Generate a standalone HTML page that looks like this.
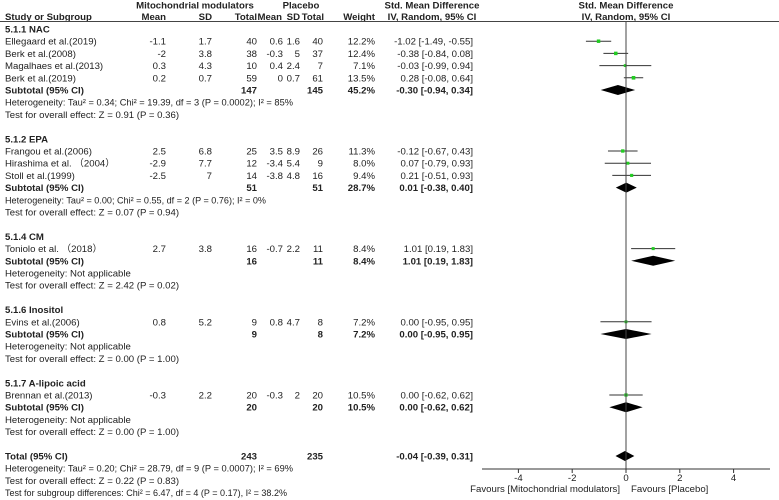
<!DOCTYPE html>
<html><head><meta charset="utf-8"><style>
body{margin:0;background:#fff}
svg{display:block;font-family:"Liberation Sans",Arial,sans-serif;font-size:9.6px;fill:#222}
.b{font-weight:bold}
</style></head><body>
<svg id="fp" width="779" height="500" viewBox="0 0 779 500" xmlns="http://www.w3.org/2000/svg">
<g>
<text class="b" x="195" y="8.5" text-anchor="middle">Mitochondrial modulators</text>
<text class="b" x="301" y="8.5" text-anchor="middle">Placebo</text>
<text class="b" x="432" y="8.5" text-anchor="middle">Std. Mean Difference</text>
<text class="b" x="626" y="8.5" text-anchor="middle">Std. Mean Difference</text>
<text class="b" x="5" y="20">Study or Subgroup</text>
<text class="b" x="166" y="20" text-anchor="end">Mean</text>
<text class="b" x="212" y="20" text-anchor="end">SD</text>
<text class="b" x="257" y="20" text-anchor="end">Total</text>
<text class="b" x="282" y="20" text-anchor="end">Mean</text>
<text class="b" x="300" y="20" text-anchor="end">SD</text>
<text class="b" x="324" y="20" text-anchor="end">Total</text>
<text class="b" x="375" y="20" text-anchor="end">Weight</text>
<text class="b" x="432" y="20" text-anchor="middle">IV, Random, 95% CI</text>
<text class="b" x="626" y="20" text-anchor="middle">IV, Random, 95% CI</text>
<line x1="0" y1="21.5" x2="779" y2="21.5" stroke="#444" stroke-width="1"/>
</g>
<g id="rows"></g>
<g id="marks"></g>
<g id="axis"></g>
</svg>
<script>
// data
const rowKinds = ["head","study","study","study","study","sub","txt","txt","","head","study","study","study","sub","txt","txt","","head","study","sub","txt","txt","","head","study","sub","txt","txt","","head","study","sub","txt","txt","","sub","txt","txt","txt"];
const labels = ["5.1.1 NAC","Ellegaard et al.(2019)","Berk et al.(2008)","Magalhaes et al.(2013)","Berk et al.(2019)","Subtotal (95% CI)","Heterogeneity: Tau² = 0.34; Chi² = 19.39, df = 3 (P = 0.0002); I² = 85%","Test for overall effect: Z = 0.91 (P = 0.36)","",
"5.1.2 EPA","Frangou et al.(2006)","Hirashima et al. （2004）","Stoll et al.(1999)","Subtotal (95% CI)","Heterogeneity: Tau² = 0.00; Chi² = 0.55, df = 2 (P = 0.76); I² = 0%","Test for overall effect: Z = 0.07 (P = 0.94)","",
"5.1.4 CM","Toniolo et al. （2018）","Subtotal (95% CI)","Heterogeneity: Not applicable","Test for overall effect: Z = 2.42 (P = 0.02)","",
"5.1.6 Inositol","Evins et al.(2006)","Subtotal (95% CI)","Heterogeneity: Not applicable","Test for overall effect: Z = 0.00 (P = 1.00)","",
"5.1.7 A-lipoic acid","Brennan et al.(2013)","Subtotal (95% CI)","Heterogeneity: Not applicable","Test for overall effect: Z = 0.00 (P = 1.00)","",
"Total (95% CI)","Heterogeneity: Tau² = 0.20; Chi² = 28.79, df = 9 (P = 0.0007); I² = 69%","Test for overall effect: Z = 0.22 (P = 0.83)","Test for subgroup differences: Chi² = 6.47, df = 4 (P = 0.17), I² = 38.2%"];
const expMean = ["","-1.1","-2","0.3","0.2","","","","","","2.5","-2.9","-2.5","","","","","","2.7","","","","","","0.8","","","","","","-0.3","","","","","","","",""];
const expSD   = ["","1.7","3.8","4.3","0.7","","","","","","6.8","7.7","7","","","","","","3.8","","","","","","5.2","","","","","","2.2","","","","","","","",""];
const expN    = ["","40","38","10","59","147","","","","","25","12","14","51","","","","","16","16","","","","","9","9","","","","","20","20","","","","243","","",""];
const plcMean = ["","0.6","-0.3","0.4","0","","","","","","3.5","-3.4","-3.8","","","","","","-0.7","","","","","","0.8","","","","","","-0.3","","","","","","","",""];
const plcSD   = ["","1.6","5","2.4","0.7","","","","","","8.9","5.4","4.8","","","","","","2.2","","","","","","4.7","","","","","","2","","","","","","","",""];
const plcN    = ["","40","37","7","61","145","","","","","26","9","16","51","","","","","11","11","","","","","8","8","","","","","20","20","","","","235","","",""];
const weights = [null,12.2,12.4,7.1,13.5,45.2,null,null,null,null,11.3,8.0,9.4,28.7,null,null,null,null,8.4,8.4,null,null,null,null,7.2,7.2,null,null,null,null,10.5,10.5,null,null,null,null,100.0,null,null,null];
const est  = [null,-1.02,-0.38,-0.03,0.28,-0.30,null,null,null,null,-0.12,0.07,0.21,0.01,null,null,null,null,1.01,1.01,null,null,null,null,0.00,0.00,null,null,null,null,0.00,0.00,null,null,null,-0.04,null,null,null];
const lo   = [null,-1.49,-0.84,-0.99,-0.08,-0.94,null,null,null,null,-0.67,-0.79,-0.51,-0.38,null,null,null,null,0.19,0.19,null,null,null,null,-0.95,-0.95,null,null,null,null,-0.62,-0.62,null,null,null,-0.39,null,null,null];
const hi   = [null,-0.55,0.08,0.94,0.64,0.34,null,null,null,null,0.43,0.93,0.93,0.40,null,null,null,null,1.83,1.83,null,null,null,null,0.95,0.95,null,null,null,null,0.62,0.62,null,null,null,0.31,null,null,null];
const ticks = [-4,-2,0,2,4];

const NS="http://www.w3.org/2000/svg";
const xs = v => 626 + v*26.9;
const ys = i => 29 + i*12.2;
// text widths for the long statistics lines (style, not data)
const fitWidth = {6:288, 14:261, 36:288, 38:282};
function T(parent,x,y,s,anchor,bold,name){const t=document.createElementNS(NS,"text");t.setAttribute("x",x);t.setAttribute("y",y);t.textContent=s;if(anchor)t.setAttribute("text-anchor",anchor);if(bold)t.setAttribute("class","b");


parent.appendChild(t);return t;}
function E(parent,tag,attrs,name){const e=document.createElementNS(NS,tag);for(const k in attrs)e.setAttribute(k,attrs[k]);


parent.appendChild(e);return e;}
const rows=document.getElementById("rows"), marks=document.getElementById("marks"), axis=document.getElementById("axis");
const fmt=v=>v.toFixed(2);
rowKinds.forEach((k,i)=>{
  const y=ys(i)+3.5;
  if(!k) return;
  const bold = k==="head"||k==="sub";
  const lt=T(rows,5,y,labels[i],null,bold,"row-label");
  if(fitWidth[i]){
    lt.setAttribute("textLength",fitWidth[i]);
    lt.setAttribute("lengthAdjust","spacingAndGlyphs");
  }
  if(k==="study"||k==="sub"){
    if(expMean[i])T(rows,166,y,expMean[i],"end",false,"exp-mean");
    if(expSD[i])T(rows,212,y,expSD[i],"end",false,"exp-sd");
    if(expN[i])T(rows,257,y,expN[i],"end",bold,"exp-total");
    if(plcMean[i])T(rows,283,y,plcMean[i],"end",false,"placebo-mean");
    if(plcSD[i])T(rows,300,y,plcSD[i],"end",false,"placebo-sd");
    if(plcN[i])T(rows,323,y,plcN[i],"end",bold,"placebo-total");
    if(weights[i]!==null)T(rows,375,y,weights[i].toFixed(1)+"%","end",bold,"weight");
    if(est[i]!==null)T(rows,473,y,fmt(est[i])+" ["+fmt(lo[i])+", "+fmt(hi[i])+"]","end",bold,"effect-ci");
  }
});
// zero line
E(axis,"line",{x1:xs(0),y1:21,x2:xs(0),y2:469,stroke:"#444","stroke-width":1},"null-line");
rowKinds.forEach((k,i)=>{
  if(est[i]===null) return;
  const y=ys(i);
  if(k==="study"){
    E(marks,"line",{x1:xs(lo[i]),y1:y,x2:xs(hi[i]),y2:y,stroke:"#333","stroke-width":1},"ci-line");
    const s=2+weights[i]*0.12;
    E(marks,"rect",{x:xs(est[i])-s/2,y:y-s/2,width:s,height:s,fill:"#22cc22"},"study-square");
  } else {
    E(marks,"polygon",{points:`${xs(lo[i])},${y} ${xs(est[i])},${y-5} ${xs(hi[i])},${y} ${xs(est[i])},${y+5}`,fill:"#000"},"summary-diamond");
  }
});
E(axis,"line",{x1:482,y1:469,x2:770,y2:469,stroke:"#333","stroke-width":1},"x-axis");
ticks.forEach(t=>{
  E(axis,"line",{x1:xs(t),y1:469,x2:xs(t),y2:473,stroke:"#333","stroke-width":1},"x-tick");
  T(axis,xs(t),481,String(t),"middle",false,"x-tick-label");
});
T(axis,620,492,"Favours [Mitochondrial modulators]","end",false,"favours-left-label");
T(axis,631,492,"Favours [Placebo]","start",false,"favours-right-label");
</script>
</body></html>
